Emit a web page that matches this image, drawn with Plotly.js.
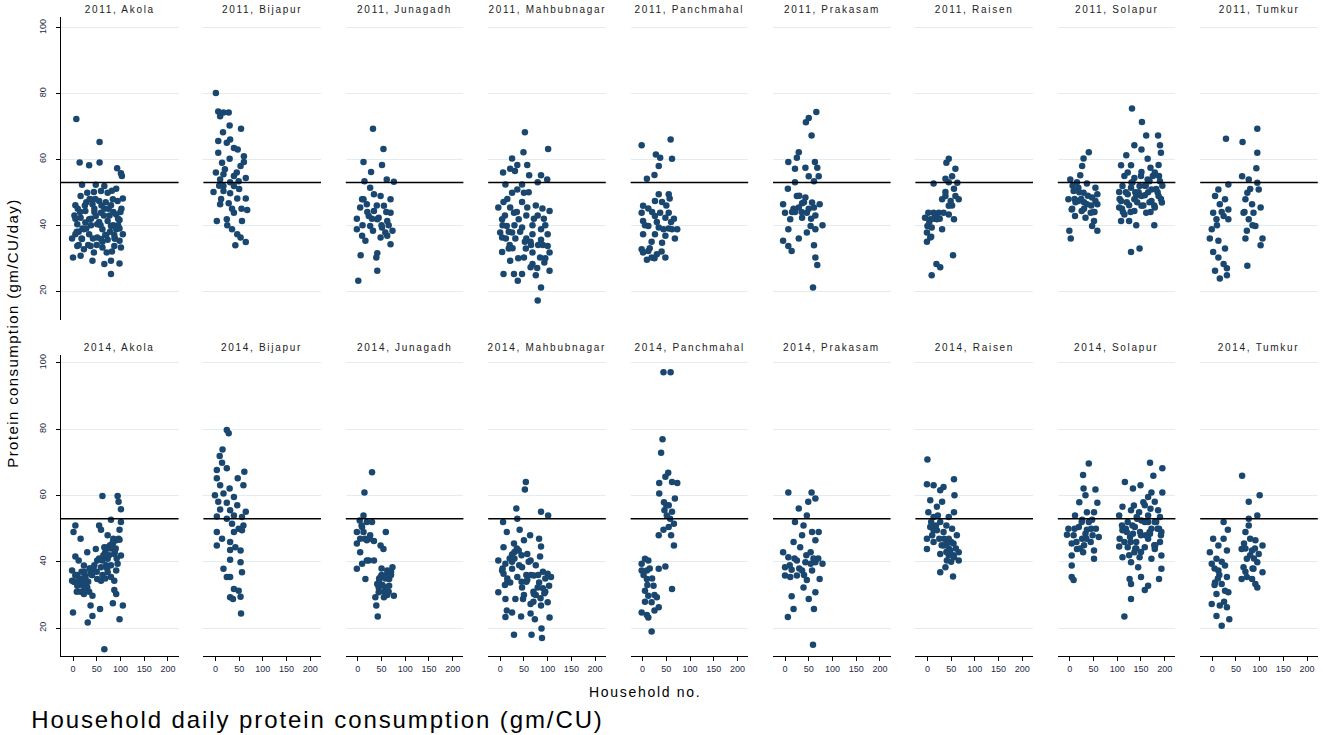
<!DOCTYPE html>
<html><head><meta charset="utf-8">
<script src="https://cdn.plot.ly/plotly-3.0.1.min.js"></script>
<style>html,body{margin:0;padding:0;background:#fff}#chart{width:1325px;height:735px}</style>
</head><body><div id="chart"></div>
<script>
// ---------- data ----------
const years = ["2011", "2014"];
const districts = ["Akola", "Bijapur", "Junagadh", "Mahbubnagar", "Panchmahal", "Prakasam", "Raisen", "Solapur", "Tumkur"];
const referenceLine = 53;
const yTicks = [20, 40, 60, 80, 100];
const xTicks = [0, 50, 100, 150, 200];
const yTitle = "Protein consumption (gm/CU/day)";
const xTitle = "Household no.";
const caption = "Household daily protein consumption (gm/CU)";

const x_2011_Akola = [7,56,14,34,56,93,101,103,19,48,91,44,59,73,16,105,37,55,94,5,41,80,26,59,91,16,34,73,98,9,51,80,23,62,5,34,87,105,-2,19,51,73,98,9,37,62,87,23,71,0,41,66,80,98,80,30,66,84,48,91,26,59,101,44,16,10,28,45,66,85,100,20,38,70,95,3,50,77,12,60,88,32,47,69,82,5,15,25,35,45,55,65,75,85,95,8,18,28,38,58,68,78,88,98,12,42,62,82,102];
const y_2011_Akola = [72.3,65.3,59.1,58.2,59.1,57.3,55.8,55,52.3,52.3,51.1,50.1,50.4,49.9,48.9,48.1,47.9,47.4,47.4,46.1,46.4,46.1,44.3,43.8,43.3,42.3,41.8,41.3,41.6,40.3,40.3,39.8,38.8,38.8,37.3,37.3,37,37.3,36,35.8,36.3,35.6,35.3,33.7,33.7,33.2,33.7,32.7,31.7,30.2,29.2,28.2,29.2,28.4,25.2,49.9,51.9,47.9,42.8,38.8,40.8,35.8,33.2,31.7,30.7,45,47,44,45,44,44,39,40,37,40,43,34,43,38,46,36,34,48,47,50.5,42,44,46,48,45,41,43,45,40,42,38,36,39,42,40,37,38,36,39,34,36,35,32,45];

const x_2011_Bijapur = [1,6,17,28,10,30,54,16,6,24,39,47,6,30,60,14,53,1,17,39,64,10,31,49,-4,17,31,46,64,10,28,67,39,3,24,56,35,46,53,42,64,17,39,60,31,20,45,8,35,55,25,12,50];
const y_2011_Bijapur = [80.2,74.6,74.3,74.3,73.1,70.3,69.3,68.3,65.6,65.1,63.5,63,62,60.2,59.2,59,58,56,55.5,55,54.4,53.9,53.1,53.4,50.1,50.4,49.7,48.1,48.1,46.4,46.7,44.6,43.8,41.3,41.8,41.3,38.8,37.3,36.3,33.9,34.9,51.9,51.9,61,66.1,57,56,52,45,45,40,48,51];

const x_2011_Junagadh = [32,54,12,51,28,14,61,76,26,34,9,48,69,19,55,5,34,69,23,44,-2,62,26,51,-2,73,32,9,48,62,16,69,41,6,39,41,1,41,12,58,20,40,60,30,50,10,65];
const y_2011_Junagadh = [69.3,63.2,59.2,58.3,56.2,53.4,53.9,53.2,51.4,49.4,47.9,48.9,47.9,46.4,45.9,45.4,44.3,43.8,42.8,42.3,42,41.3,39.8,39.3,38.8,38.3,38.3,36.8,36.3,36.8,35.3,34.2,31.5,30.9,30.2,26.2,23.1,41.8,47.9,37.8,44,46,44,42,40,40,40];

const x_2011_Mahbubnagar = [52,101,49,25,36,57,21,31,6,61,86,99,79,11,46,36,25,50,7,46,57,89,104,-4,21,29,79,4,39,71,14,46,86,0,25,68,100,4,32,86,100,18,4,54,68,104,50,84,21,68,93,64,7,29,46,75,104,37,86,79,15,60,92,35,10,75,55,95,20,65,5,18,30,42,55,68,80,95,12,26,38,52,64,78,90];
const y_2011_Mahbubnagar = [68.3,63.2,62.2,60.3,58.3,58.3,57.2,56.5,56,55.2,55.2,53.9,53.1,52.4,52.4,50.9,49.9,49.9,47.1,47.1,45.4,45.1,44.3,45.4,45.4,43.8,43,41.8,41.8,42,39.8,39.3,38.8,37.8,37.8,37.3,37.3,36.3,36,35.6,33.7,32.9,31.9,32.9,31.7,31.7,30.2,30.2,29.2,28.2,28.7,27.2,25.2,25.2,25.2,24.8,26.2,23.1,21.1,17.1,48,50,42,44,43,46,36,40,34,34,40,38,40,38,43,40,34,30,36,33,30,35,35,27,34];

const x_2011_Panchmahal = [-2,59,28,37,62,34,25,9,34,55,57,26,41,1,12,-2,37,55,26,48,66,1,12,34,55,73,1,26,48,68,19,41,-2,12,30,48,9,19,1,62,44,20,50,5,30,60,15,40,25];
const y_2011_Panchmahal = [64.3,66.1,61.5,60.5,60.2,58,55.3,54.1,49.4,49.4,48.1,47.4,47.1,45.9,45.1,43.8,43.8,43.8,42.8,42.3,42,41.3,39.8,39.3,39,38.8,37.3,37.3,36.8,36,35,34.7,32.7,32.2,31.2,30.2,29.5,30.2,31.7,38.8,38.8,44,46,40,41,41,33,32,30];

const x_2011_Prakasam = [66,50,44,56,29,25,7,63,21,43,68,50,71,21,61,6,25,43,-4,36,73,57,0,21,46,64,11,36,79,54,7,64,46,29,-4,7,14,61,64,68,59,18,61,29,30,40,15,50,35,55];
const y_2011_Prakasam = [74.4,72.6,71.3,67.3,62.2,60.5,59.2,59.2,57.2,57.5,57.5,54.9,54.9,53.1,53.4,51.1,48.9,48.4,46.4,46.7,46.4,46.9,43.8,44,43.8,43,41.8,42.3,40,39.8,38.8,38.8,37.8,36,35.3,33.7,32.2,33.9,30.2,27.9,21.1,45,45.4,45.4,49,47,44,45,44,42];

const x_2011_Raisen = [45,40,59,38,52,13,45,63,56,38,59,66,31,49,2,13,24,34,45,-5,6,20,56,0,9,31,-1,6,-1,54,19,27,9,38,45,16,4,14,26,8,52];
const y_2011_Raisen = [60.2,59,57.2,54.1,54.9,52.7,53.1,52.9,51.1,50.1,48.9,47.9,47.9,47.4,43.8,43.8,43.8,43.8,43.3,42.3,41.8,41.8,41.8,39.8,39.3,38.8,37.8,36.3,35,30.9,28.2,27.2,24.8,48.9,45.9,42.8,41,42,42,36.5,46];

const x_2011_Solapur = [40,29,26,22,1,15,36,54,8,29,58,47,-3,18,36,58,4,25,44,11,33,51,58,47,-1,2,54,18,10,20,30,45,5,50,12,24,38,52,6,30,
  131,152,161,186,136,190,119,151,192,164,108,129,187,170,122,151,179,136,164,190,111,147,129,172,104,122,158,187,136,108,172,194,125,151,104,179,136,161,115,108,125,140,178,129,147,151,168,115,130,145,160,175,185,120,140,155,170,195,110,
  105,118,132,142,158,168,182,192,112,128,138,150,165,178,188];
const y_2011_Solapur = [62.2,60.3,58,55.2,53.9,53.1,52.7,51.4,50.4,49.9,49.4,48.4,47.9,47.4,46.4,46.4,44.8,44.3,43.8,42.8,42.3,41.3,38.3,39.8,38.3,36,47.4,51.4,48,50,45,46,45,44,47,48,49,44,52,47,
  75.5,71.4,67.3,67.3,64.3,64.3,61.3,63,62,60.2,58.2,58.2,58.3,57.5,56,56.2,56,54.4,53.9,53.4,51.9,51.9,51.4,50.9,50.1,49.4,49.1,48.9,47.9,47.4,47.4,46.9,46.1,45.9,45.4,45.4,44.3,43.8,43.3,41.3,41.3,40,40,31.9,32.9,48.9,53.4,55,53,50,52,55,50,47,49,46,44,52,45,
  48,50,53,47,52,47,51,48,44,44,50,55,50,46,55];

const x_2011_Tumkur = [95,29,64,95,93,63,77,95,34,98,13,74,6,27,70,16,102,34,2,66,87,24,9,77,34,91,-1,73,-5,13,70,106,102,27,2,13,31,24,6,74,16,31,84,80,20,10,85,68];
const y_2011_Tumkur = [69.3,66.3,65.3,62,57.3,54.9,53.9,52.9,52.4,50.9,50.9,49.9,48.9,47.9,47.9,46.4,45.4,44.8,43.8,43.8,43.8,42.8,41.8,41.8,41.8,39.8,38.8,38.3,36,35.3,36,36,33.9,32.9,31.9,30.2,26.9,28.2,26.2,27.7,23.8,24.8,46.4,51,44,40,40,44];

const x_2014_Akola = [62,94,96,101,80,101,5,55,59,98,1,73,16,98,84,48,66,30,5,87,101,12,51,73,23,59,91,5,37,73,-2,19,51,87,9,30,41,87,91,23,84,105,37,57,0,41,31,98,66,16,44,62,73,91,-2,26,59,80,16,94,8,20,35,45,68,78,85,12,28,40,55,70,3,24,50,64,76,90,2,6,10,14,18,22,26,32,36,40,8,16,24,34,62,68,72,78,84,88,92,96,70,80];
const y_2014_Akola = [59.9,59.9,58.1,55.9,52.7,52,51,51,49.7,49.7,49,48,47,46.7,45.5,43.9,44.4,42.9,41.6,42.4,41.9,40.4,40.4,40.9,38.9,38.4,37.4,35.9,36.6,36.9,34.3,34.8,34.8,34.3,32.8,32.3,29.8,31.5,30.3,30.3,27.5,26.8,26.8,25.8,24.7,23.7,21.7,22.7,13.6,33.8,37.4,40.4,44.4,46.5,37.4,35.6,34.3,35.4,34.3,39.4,36,35,38,39,43,45,47,33,34,36,41,39,34,37,37,42,42,44,34,36,33,35,37,33,35,34,38,36,31,31,32,31,36,35,38,44,46,43,41,47,42,39];

const x_2014_Bijapur = [24,28,15,9,14,24,3,61,47,3,10,59,30,-1,17,39,6,24,46,10,31,64,3,39,56,24,35,59,49,3,39,56,14,31,3,42,31,53,31,53,17,56,31,39,49,31,53,37,54,24];
const y_2014_Bijapur = [79.8,78.8,73.9,71.9,69.9,68.2,67.7,67.2,65.2,65.2,63.1,63.1,62.1,60.1,60.6,59.6,58.1,57.8,57.1,55.8,55.6,55.1,53.7,54,53.5,53,51.5,51,50,49,49,49.5,47,46,44.9,44.4,43.6,43.4,40.6,39.9,37.9,36.9,35.4,31.8,31.3,29.3,29.5,28.8,24.4,35.4];

const x_2014_Junagadh = [30,14,12,4,19,30,-2,12,59,5,19,34,-2,48,54,5,23,9,34,-2,73,62,16,48,66,41,58,76,37,55,44,39,42,66,44,26,9,19,8,15,25,50,60,70,45,55,45,52,58,65,70,50,62];
const y_2014_Junagadh = [67,60.9,54,52.5,52,52,49,49,49,47,46.5,46.3,45.5,44.9,43.9,42.9,40.4,39.4,40.4,37.9,38.4,37.4,34.8,35.4,34.8,33.3,32.3,29.8,29.3,29.3,30.8,26.8,23.5,32.8,32.3,48,50.5,40.4,51,47,47,36,36,36,34,31,35,33,35,31,37,38,30];

const x_2014_Mahbubnagar = [54,52,34,86,101,36,6,14,41,63,82,50,29,7,86,39,57,25,84,-4,11,46,25,71,100,7,36,57,82,103,21,46,-4,93,71,11,32,48,64,86,100,14,25,64,11,44,104,73,87,29,66,88,4,64,79,107,20,40,60,75,90,30,55,15,70,95,45,80,5,15,25,35,45,55,65,75,85,95,10,30,50,70,90];
const y_2014_Mahbubnagar = [64.1,61.8,56.1,55.1,54,53,52,49,49.7,48,47,46.5,45.5,44.4,44.6,43.4,42.4,42.2,41.6,40.4,39.4,38.4,37.9,35.9,36.4,36.4,35.4,34.5,33.8,32.8,33.8,32.3,30.8,30.5,30.3,28.8,28.8,28.8,27.3,26.8,27.8,25.3,24.7,24.4,23.4,23.5,23.2,22.7,19.9,18,18,17,37.4,40.4,32.3,35.4,41,39,40,39,37,43,36,34,31,31,34,36,38,35,40,44,42,34,36,30,29,35,33,41,30,28,32];

const x_2014_Panchmahal = [44,59,42,39,54,48,73,35,62,35,68,55,46,62,51,66,44,55,34,66,5,-2,48,34,-2,9,23,62,5,12,30,19,34,-2,9,25,12,19,9,12,2,15,20,10,25,50,58,45,60,5];
const y_2014_Panchmahal = [97.2,97.2,77,72.9,66.9,65.7,63.8,63.8,64.1,60.6,59.1,57.1,55.6,55.1,54,51.5,49.7,50.5,48,44.9,40.9,39.4,38.6,37.9,37.4,34.8,32.8,31.8,31.3,29.8,29.3,27.8,26.3,24.7,24,25.3,23.2,19,37.4,40.4,36,38,35,33,30,57,53,58,48,28];

const x_2014_Prakasam = [7,56,64,49,29,46,21,39,57,71,36,64,18,32,54,-4,7,25,43,64,79,0,14,36,57,73,11,46,25,39,64,14,50,18,61,6,59,0,54,20,30,45,60,10,40,70];
const y_2014_Prakasam = [60.9,60.9,59.1,58.1,56.1,54,52,51,49,49,48,46.5,46,44.4,42.9,42.9,41.4,40.4,39.9,39.9,39.4,38.4,37.6,37.4,37.4,34.8,35.4,34.5,35.9,32.3,30.8,29.6,28.8,25.8,25.8,23.4,15,35.9,39.4,41,38,42,41,39,36,41];

const x_2014_Raisen = [0,56,-1,13,34,27,57,6,31,20,56,2,13,45,27,6,52,20,34,62,-1,45,13,55,34,-1,48,66,27,56,41,66,38,27,54,13,41,8,22,40,50,60,30,45,10,25,35,45,55,18,40,50];
const y_2014_Raisen = [70.9,64.9,63.4,63.1,62.6,61.6,60.1,58.6,58.1,56.6,55,55,53.5,53.5,52,50.5,50,49.5,49,48,47,47,46,45.5,44.9,43.9,43.4,42.9,42.4,41.4,40.4,40.4,38.4,36.9,35.6,49.5,45.5,52,54,51,46,44,45,42,48,47,47,44,42,51,43,40];

const x_2014_Solapur = [40,28,29,54,33,58,11,36,51,26,47,-3,19,36,61,8,26,44,4,15,28,51,4,51,4,4,8,-6,33,20,45,10,30,55,14,25,40,48,22,35,
  169,195,176,116,149,133,195,172,165,158,179,111,129,146,186,104,141,165,190,122,151,179,137,172,111,148,193,127,165,140,190,104,122,158,179,136,111,147,172,193,129,144,193,126,150,188,129,165,158,129,115,169,133,110,120,135,155,170,185,115,140,160,180,125,150,
  105,118,132,142,158,168,182,192,112,128,138,150,165,178,188];
const y_2014_Solapur = [69.7,66.2,62.1,61.8,60.1,57.8,54,55,55,52.7,52.7,50,50.5,49.7,47.5,48,47,46,45.5,43.9,42.9,43.4,41.9,40.9,38.9,35.4,34.5,48.2,48.5,58,50,50,45,50,46,52,52,48,44,47,
  69.9,68.2,66,64.1,63.1,62.1,60.9,60.9,59.6,57.1,58.1,56.6,55.6,55,55.6,54,53.5,54,53.5,52,52.5,52,50.5,50,49.5,49,49,47.5,47,46,46,44.6,44.4,44.4,43.9,42.9,41.4,41.4,40.9,41.9,39.9,38.4,37.9,34.8,35.4,34.8,33.3,32.8,31.5,28.8,23.5,48.5,48.5,51,49,57,58,56,50,46,44,48,45,42,43,
  47,50,51,53,52,49,52,48,50,46,44,48,52,45,50];

const x_2014_Tumkur = [63,100,77,95,77,24,77,33,70,2,24,91,67,13,106,31,62,84,-5,98,9,73,95,-1,27,66,87,13,106,31,62,84,6,20,95,27,34,9,-1,16,31,9,36,20,73,91,80,88,70,5,15,25,85,5,12,20,80,90,70];
const y_2014_Tumkur = [66,60.1,58.1,54,53,52,51,49.7,49,47,47,46.5,45.5,44.9,44.9,43.4,43.9,43.4,42.9,42.4,40.9,40.9,39.9,39.4,38.9,38.4,37.9,37.4,36.9,35.4,34.8,34.8,33.8,33.3,32.3,31.3,30.8,30.3,27.3,26.8,26.3,23.7,22.7,20.7,35.4,33.3,47,41,44,38,36,28,38,33,35,40,42,44,37];

const panelSeries = {
  "2011": {Akola:[x_2011_Akola,y_2011_Akola], Bijapur:[x_2011_Bijapur,y_2011_Bijapur], Junagadh:[x_2011_Junagadh,y_2011_Junagadh],
           Mahbubnagar:[x_2011_Mahbubnagar,y_2011_Mahbubnagar], Panchmahal:[x_2011_Panchmahal,y_2011_Panchmahal], Prakasam:[x_2011_Prakasam,y_2011_Prakasam],
           Raisen:[x_2011_Raisen,y_2011_Raisen], Solapur:[x_2011_Solapur,y_2011_Solapur], Tumkur:[x_2011_Tumkur,y_2011_Tumkur]},
  "2014": {Akola:[x_2014_Akola,y_2014_Akola], Bijapur:[x_2014_Bijapur,y_2014_Bijapur], Junagadh:[x_2014_Junagadh,y_2014_Junagadh],
           Mahbubnagar:[x_2014_Mahbubnagar,y_2014_Mahbubnagar], Panchmahal:[x_2014_Panchmahal,y_2014_Panchmahal], Prakasam:[x_2014_Prakasam,y_2014_Prakasam],
           Raisen:[x_2014_Raisen,y_2014_Raisen], Solapur:[x_2014_Solapur,y_2014_Solapur], Tumkur:[x_2014_Tumkur,y_2014_Tumkur]}
};

// ---------- layout geometry (pixels) ----------
const W = 1325, H = 735;
const colLeft0 = 61, colStep = 142.4, colWidth = 117.6;
const rowTop = [17, 355], rowBottom = [320, 656];
const yRanges = [[11.2, 103.3], [11.6, 102.4]];
const xRange = [-25.3, 222.5];
const FONT = "Arial, 'Liberation Sans', sans-serif";
const markerColor = "#1a476f";
const gridColor = "#e3edf1";

const traces = [], shapes = [], annotations = [], spacing = [];
const layout = {
  width: W, height: H, margin: {l:0, r:0, t:0, b:0},
  paper_bgcolor: "#fff", plot_bgcolor: "rgba(0,0,0,0)",
  showlegend: false, font: {family: FONT, color: "#000"}
};

years.forEach((yr, r) => {
  districts.forEach((d, c) => {
    const n = r * districts.length + c + 1;
    const xs = n === 1 ? "" : String(n);
    const [xv, yv] = panelSeries[yr][d];
    traces.push({
      type: "scatter", mode: "markers", x: xv, y: yv,
      xaxis: "x" + xs, yaxis: "y" + xs, cliponaxis: false,
      marker: {color: markerColor, size: 6.5, line: {width: 0}},
      hoverinfo: "x+y"
    });
    const left = colLeft0 + colStep * c;
    layout["xaxis" + xs] = {
      domain: [left / W, (left + colWidth) / W], anchor: "y" + xs,
      range: xRange, fixedrange: true, zeroline: false, showgrid: false,
      tickmode: "array", tickvals: xTicks,
      showline: r === 1, linecolor: "#000", linewidth: 1,
      ticks: r === 1 ? "outside" : "", ticklen: 4, tickcolor: "#000", tickwidth: 1,
      showticklabels: r === 1, tickfont: {size: 9, color: "#1f2a44", family: FONT}
    };
    layout["yaxis" + xs] = {
      domain: [1 - rowBottom[r] / H, 1 - rowTop[r] / H], anchor: "x" + xs,
      range: yRanges[r], fixedrange: true, zeroline: false,
      showgrid: true, gridcolor: gridColor, gridwidth: 1,
      tickmode: "array", tickvals: yTicks,
      showline: c === 0, linecolor: "#000", linewidth: 1,
      ticks: c === 0 ? "outside" : "", ticklen: 4, tickcolor: "#000", tickwidth: 1,
      showticklabels: c === 0, tickangle: -90, ticklabelstandoff: 6,
      tickfont: {size: 9, color: "#1f2a44", family: FONT}
    };
    shapes.push({
      type: "line", xref: "x" + xs + " domain", yref: "y" + xs,
      x0: 0, x1: 1, y0: referenceLine, y1: referenceLine,
      line: {color: "#000", width: 1.5}, layer: "above"
    });
    annotations.push({
      text: yr + ", " + d, showarrow: false,
      xref: "paper", yref: "paper",
      x: (left + colWidth / 2) / W, y: 1 - (rowTop[r] - 8) / H,
      xanchor: "center", yanchor: "middle",
      font: {size: 10, color: "#222", family: FONT}
    });
    spacing.push("1.7px");
  });
});

annotations.push({
  text: yTitle, showarrow: false, textangle: -90,
  xref: "paper", yref: "paper", x: 12 / W, y: 1 - 333 / H,
  xanchor: "center", yanchor: "middle", font: {size: 15, color: "#000", family: FONT}
});
spacing.push("1.4px");
annotations.push({
  text: xTitle, showarrow: false,
  xref: "paper", yref: "paper", x: 645 / W, y: 1 - 692 / H,
  xanchor: "center", yanchor: "middle", font: {size: 14, color: "#000", family: FONT}
});
spacing.push("1.7px");
annotations.push({
  text: caption, showarrow: false,
  xref: "paper", yref: "paper", x: 317 / W, y: 1 - 719 / H,
  xanchor: "center", yanchor: "middle", font: {size: 24, color: "#000", family: FONT}
});
spacing.push("1.9px");

layout.shapes = shapes;
layout.annotations = annotations;

Plotly.newPlot("chart", traces, layout, {displayModeBar: false, staticPlot: true}).then(gd => {
  gd.querySelectorAll(".annotation").forEach(a => {
    const i = +a.getAttribute("data-index");
    const t = a.querySelector("text");
    if (t && spacing[i]) t.style.letterSpacing = spacing[i];
  });
});
</script>
</body></html>
